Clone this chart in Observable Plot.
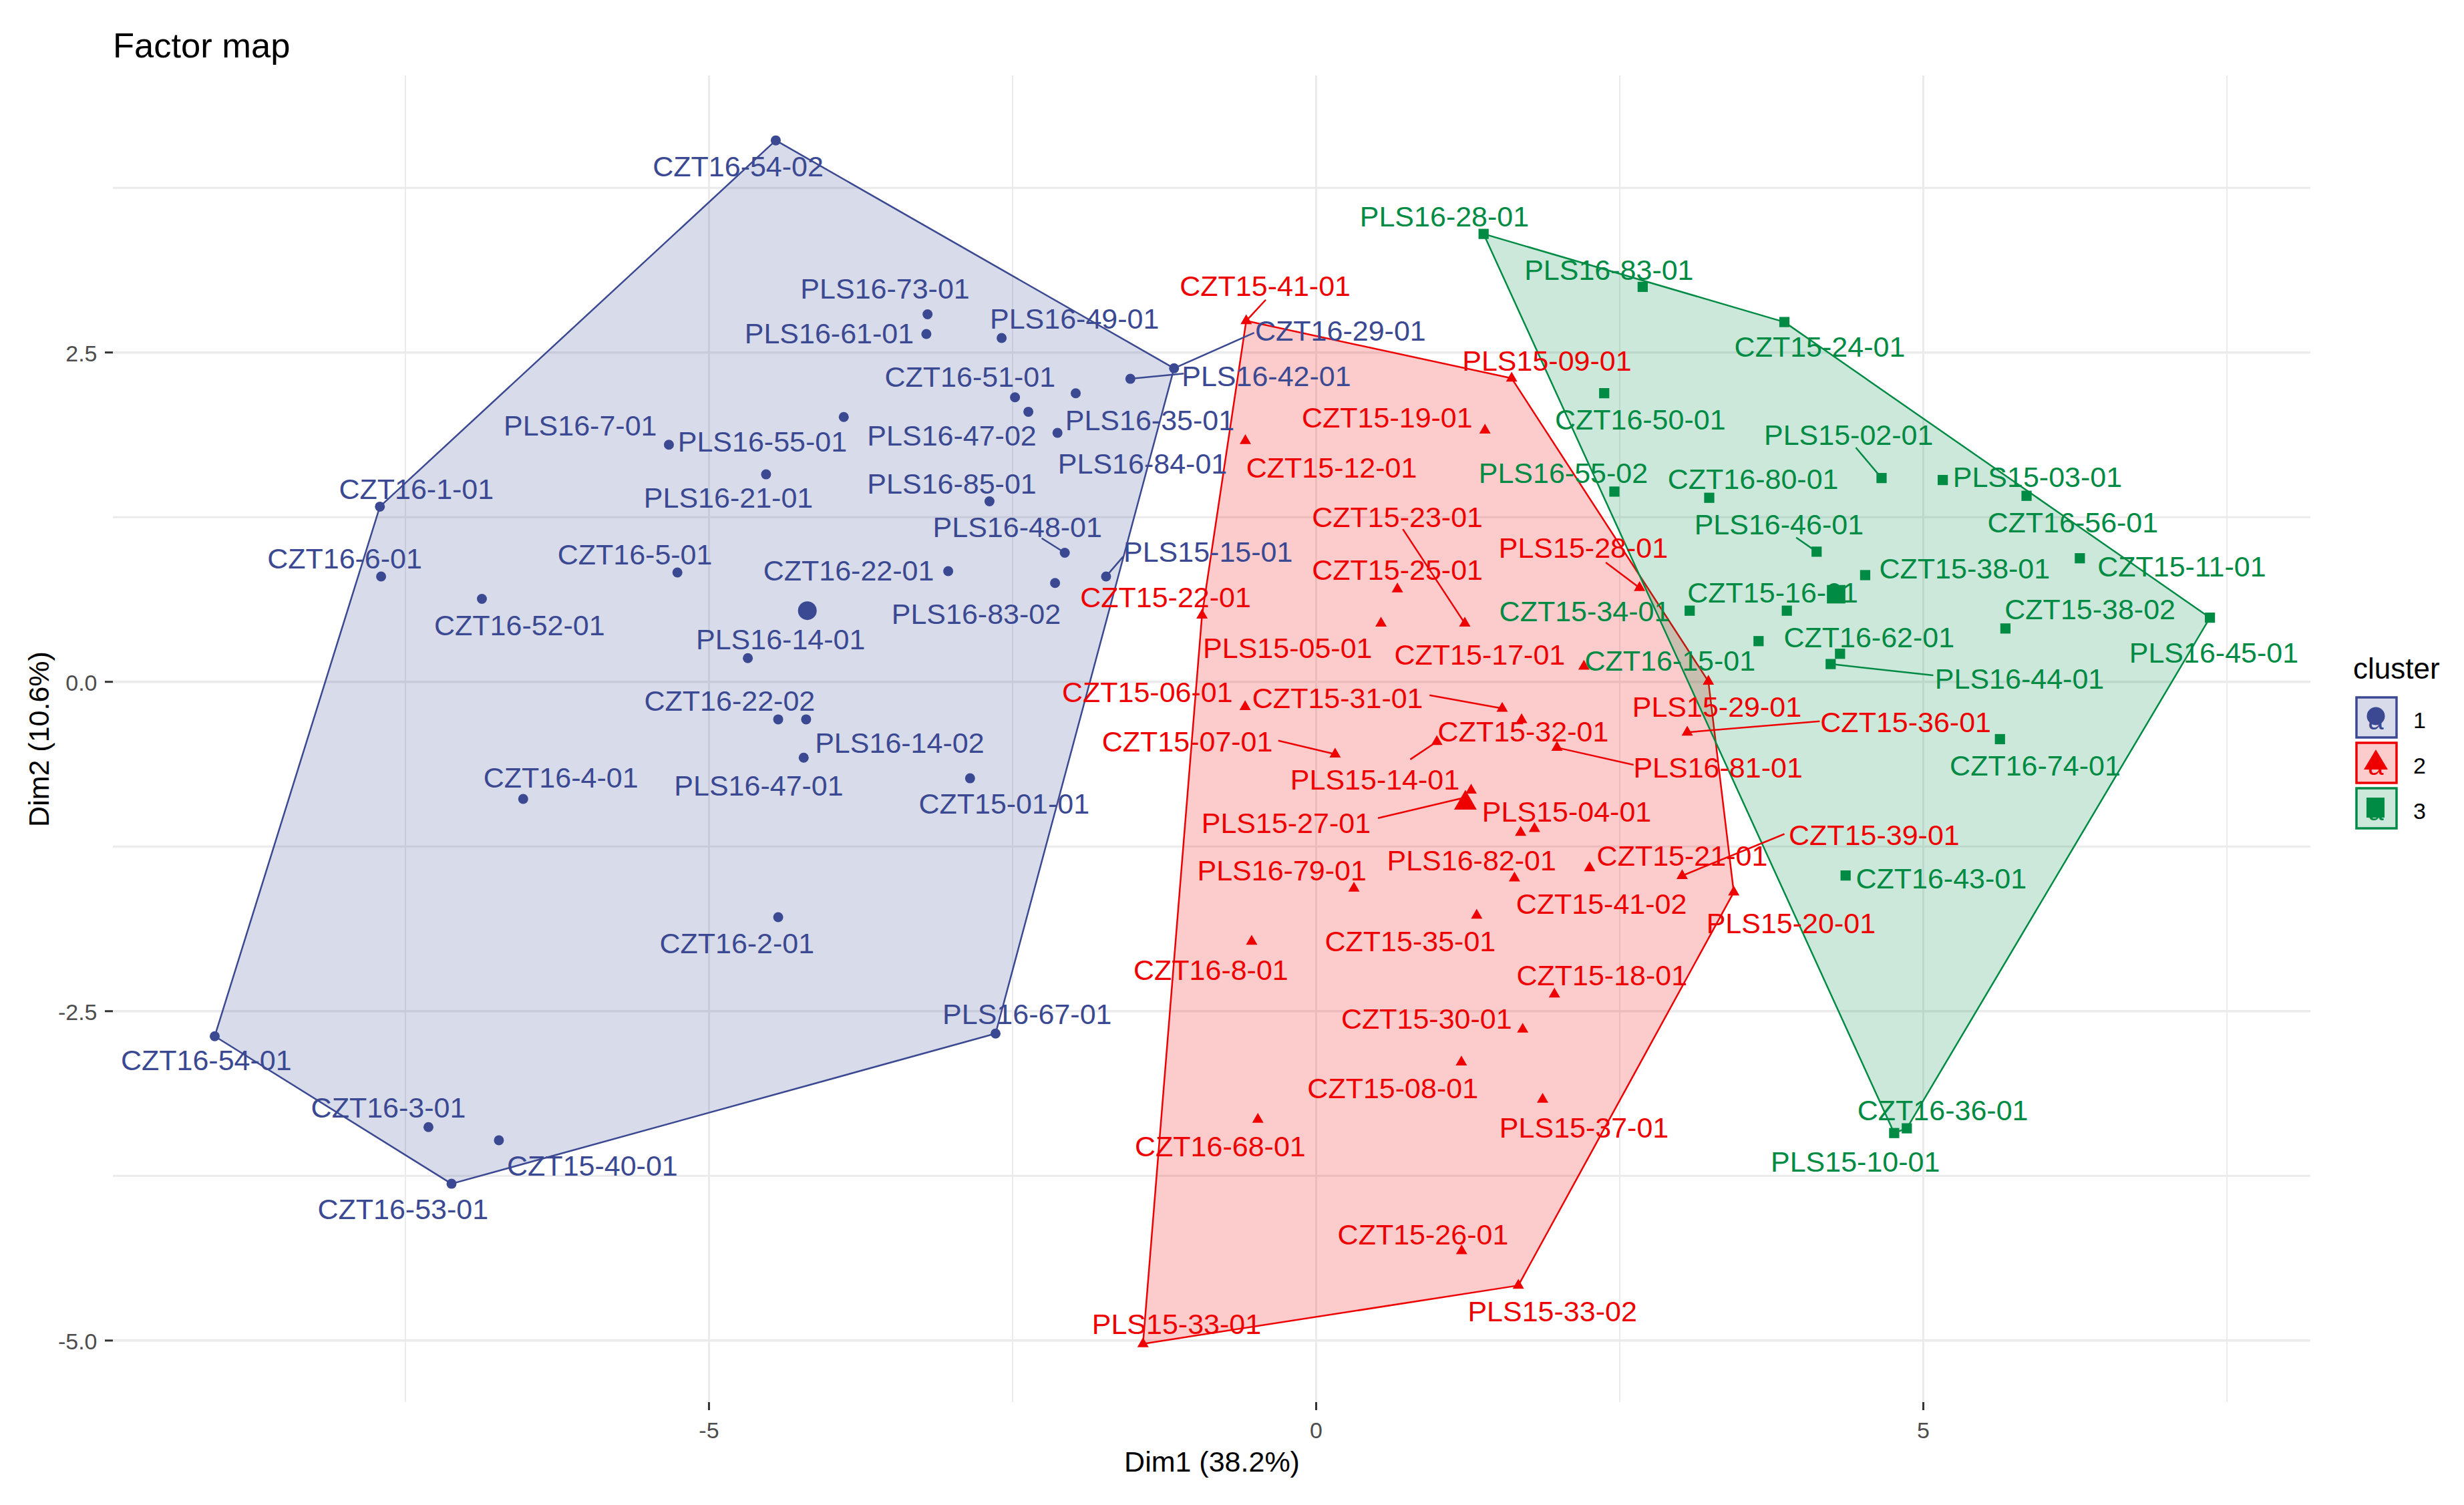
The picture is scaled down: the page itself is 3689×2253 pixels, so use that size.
<!DOCTYPE html>
<html>
<head>
<meta charset="utf-8">
<script src="https://cdn.jsdelivr.net/npm/d3@7"></script>
<script src="https://cdn.jsdelivr.net/npm/@observablehq/plot@0.6"></script>
<style>
html,body{margin:0;padding:0;background:#fff}
#wrap{position:relative;width:3689px;height:2253px;font-family:"Liberation Sans",Arial,sans-serif;overflow:hidden}
#title{position:absolute;left:169px;top:38px;font-size:52.5px;line-height:60px;color:#000}
#legend{position:absolute;left:3523px;top:976px;color:#000}
#legend .head{font-size:44px;line-height:50px;height:66px}
#legend .row{position:relative;height:68px}
#legend svg{position:absolute;left:3px;top:0}
#legend .lab{position:absolute;left:90px;top:18px;font-size:34px;line-height:36px}
</style>
</head>
<body>
<div id="wrap"><div id="title">Factor map</div><div id="legend"></div></div>
<script>
const clusterIds = ["1", "2", "3"];
const colors = ["#3B4992", "#EE0000", "#008B45"];
const xMajor = [-5, 0, 5];
const xMinor = [-7.5, -2.5, 2.5, 7.5];
const yMajor = [-5, -2.5, 0, 2.5];
const yMinor = [-3.75, -1.25, 1.25, 3.75];

const names1 = ["CZT16-54-02","PLS16-73-01","PLS16-61-01","PLS16-49-01","CZT16-51-01","PLS16-47-02","PLS16-35-01","PLS16-84-01","PLS16-42-01","CZT16-29-01","PLS16-55-01","PLS16-7-01","PLS16-21-01","PLS16-85-01","PLS16-48-01","PLS15-15-01","CZT16-22-01","PLS16-83-02","CZT16-5-01","CZT16-52-01","CZT16-1-01","CZT16-6-01","PLS16-14-01","CZT16-22-02","PLS16-14-02","PLS16-47-01","CZT16-4-01","CZT15-01-01","CZT16-2-01","PLS16-67-01","CZT16-54-01","CZT16-3-01","CZT15-40-01","CZT16-53-01"];
const x1 = [-4.45,-3.20,-3.21,-2.59,-2.48,-2.37,-1.98,-2.13,-1.53,-1.17,-3.89,-5.33,-4.53,-2.69,-2.07,-1.73,-3.03,-2.15,-5.26,-6.87,-7.71,-7.70,-4.68,-4.43,-4.20,-4.22,-6.53,-2.85,-4.43,-2.64,-9.07,-7.31,-6.73,-7.12];
const y1 = [4.11,2.79,2.64,2.61,2.16,2.05,2.19,1.89,2.30,2.38,2.01,1.80,1.575,1.37,0.98,0.80,0.84,0.75,0.83,0.63,1.33,0.80,0.18,-0.285,-0.285,-0.576,-0.889,-0.732,-1.786,-2.67,-2.69,-3.38,-3.48,-3.81];
const labelX1 = [-4.76,-3.55,-4.01,-1.99,-2.85,-3.0,-1.37,-1.43,-0.41,0.20,-4.56,-6.06,-4.84,-3.0,-2.46,-0.89,-3.85,-2.80,-5.61,-6.56,-7.41,-8.0,-4.41,-4.83,-3.43,-4.59,-6.22,-2.57,-4.77,-2.38,-9.14,-7.64,-5.96,-7.52];
const labelY1 = [3.915,2.99,2.65,2.76,2.32,1.875,1.99,1.66,2.327,2.67,1.83,1.95,1.40,1.51,1.18,0.99,0.85,0.52,0.97,0.435,1.47,0.94,0.325,-0.14,-0.457,-0.783,-0.725,-0.921,-1.98,-2.52,-2.87,-3.23,-3.67,-4.0];

const names2 = ["CZT15-41-01","PLS15-09-01","CZT15-19-01","CZT15-12-01","CZT15-23-01","CZT15-25-01","PLS15-28-01","PLS15-05-01","CZT15-17-01","PLS15-29-01","CZT15-22-01","CZT15-06-01","CZT15-31-01","CZT15-32-01","CZT15-07-01","PLS15-14-01","PLS16-81-01","CZT15-36-01","PLS15-04-01","PLS15-27-01","PLS16-79-01","PLS16-82-01","CZT15-21-01","CZT15-39-01","CZT15-41-02","CZT15-35-01","CZT16-8-01","CZT15-18-01","CZT15-30-01","CZT15-08-01","PLS15-37-01","CZT16-68-01","PLS15-20-01","CZT15-26-01","PLS15-33-02","PLS15-33-01"];
const x2 = [-0.576,1.61,1.39,-0.583,1.224,0.669,2.663,0.534,2.205,3.23,-0.94,-0.585,1.532,1.692,0.156,0.994,1.983,3.056,1.276,1.229,0.311,1.633,2.252,3.014,1.798,1.322,-0.531,1.962,1.701,1.196,1.865,-0.48,3.439,1.198,1.665,-1.426];
const y2 = [2.74,2.304,1.91,1.83,0.444,0.704,0.714,0.444,0.117,0.003,0.505,-0.189,-0.202,-0.288,-0.549,-0.454,-0.499,-0.383,-0.823,-0.877,-1.567,-1.49,-1.413,-1.472,-1.115,-1.773,-1.97,-2.371,-2.638,-2.887,-3.17,-3.322,-1.597,-4.32,-4.582,-5.025];
const labelX2 = [-0.42,1.90,0.585,0.127,0.669,0.669,2.20,-0.235,1.347,3.30,-1.24,-1.39,0.177,1.705,-1.061,0.484,3.309,4.855,2.063,-0.248,-0.282,1.28,3.014,4.595,2.349,0.775,-0.867,2.353,0.909,0.631,2.206,-0.79,3.91,0.88,1.945,-1.15];
const labelY2 = [3.007,2.443,2.01,1.63,1.255,0.853,1.02,0.263,0.209,-0.186,0.644,-0.075,-0.118,-0.374,-0.449,-0.737,-0.646,-0.303,-0.979,-1.065,-1.427,-1.352,-1.314,-1.158,-1.683,-1.966,-2.181,-2.224,-2.552,-3.08,-3.379,-3.52,-1.826,-4.189,-4.773,-4.869];
const extraX2 = [1.684];
const extraY2 = [-1.144];

const names3 = ["PLS16-28-01","PLS16-83-01","CZT15-24-01","CZT16-50-01","PLS15-02-01","PLS15-03-01","CZT16-56-01","CZT16-80-01","PLS16-55-02","PLS16-46-01","CZT15-38-01","CZT15-11-01","CZT15-16-01","CZT15-34-01","CZT15-38-02","PLS16-45-01","CZT16-15-01","CZT16-62-01","PLS16-44-01","CZT16-74-01","CZT16-43-01","CZT16-36-01","PLS15-10-01"];
const x3 = [1.379,2.689,3.856,2.372,4.656,5.16,5.85,3.237,2.456,4.121,4.521,6.289,3.876,3.076,5.676,7.36,3.643,4.314,4.237,5.631,4.36,4.864,4.76];
const y3 = [3.40,2.998,2.731,2.191,1.547,1.532,1.412,1.397,1.444,0.988,0.81,0.938,0.54,0.54,0.405,0.487,0.309,0.213,0.135,-0.435,-1.47,-3.389,-3.425];
const labelX3 = [1.056,2.411,4.147,2.669,4.385,5.94,6.231,3.598,2.035,3.811,5.34,7.128,3.76,2.211,6.373,7.392,2.914,4.553,5.792,5.921,5.147,5.16,4.44];
const labelY3 = [3.539,3.133,2.55,1.995,1.878,1.557,1.212,1.543,1.589,1.198,0.864,0.882,0.682,0.54,0.554,0.227,0.163,0.344,0.028,-0.63,-1.487,-3.246,-3.64];

const centroidX = [-4.19, 1.229, 4.282];
const centroidY = [0.54, -0.92, 0.665];

const linkNames = ["PLS16-42-01","CZT16-29-01","PLS16-48-01","PLS15-15-01","CZT15-41-01","CZT15-23-01","PLS15-28-01","CZT15-31-01","CZT15-07-01","PLS15-14-01","PLS16-81-01","CZT15-36-01","PLS15-27-01","CZT15-39-01","PLS15-02-01","PLS16-46-01","PLS16-44-01"];
const linkX = [-1.09,-0.51,-2.26,-1.59,-0.415,0.714,2.385,0.934,-0.312,0.775,2.614,4.147,0.509,3.856,4.444,3.953,5.082];
const linkY = [2.34,2.65,1.09,0.95,2.90,1.159,0.906,-0.102,-0.446,-0.589,-0.63,-0.299,-1.035,-1.155,1.778,1.095,0.049];

const labelFont = 43;
const groups = [
  {names:names1,x:x1,y:y1,lx:labelX1,ly:labelY1,color:colors[0],symbol:"circle",r:7.5,cr:14},
  {names:names2,x:x2.concat(extraX2),y:y2.concat(extraY2),lx:labelX2,ly:labelY2,color:colors[1],symbol:"triangle2",r:8.1,cr:16.2},
  {names:names3,x:x3,y:y3,lx:labelX3,ly:labelY3,color:colors[2],symbol:"square",r:8.6,cr:15.6}
];

const allNames = names1.concat(names2, names3);
const allX = x1.concat(x2, x3);
const allY = y1.concat(y2, y3);
const linkColor = n => names1.includes(n) ? colors[0] : names2.includes(n) ? colors[1] : colors[2];
const linkPt = n => allNames.indexOf(n);

const marks = [
  Plot.ruleX(xMinor,{stroke:"#EBEBEB",strokeWidth:2}),
  Plot.ruleX(xMajor,{stroke:"#EBEBEB",strokeWidth:3}),
  Plot.ruleY(yMinor,{stroke:"#EBEBEB",strokeWidth:3}),
  Plot.ruleY(yMajor,{stroke:"#EBEBEB",strokeWidth:3.5})
];
groups.forEach(g => {
  marks.push(Plot.hull(g.x,{x:g.x,y:g.y,fill:g.color,fillOpacity:0.2,stroke:g.color,strokeWidth:2.5}));
});
marks.push(Plot.link(linkNames,{
  x1:linkNames.map(n=>allX[linkPt(n)]), y1:linkNames.map(n=>allY[linkPt(n)]),
  x2:linkX, y2:linkY,
  stroke:linkNames.map(linkColor), strokeWidth:2.5
}));
groups.forEach((g,i) => {
  marks.push(Plot.dot(g.x,{x:g.x,y:g.y,symbol:()=>g.symbol,r:g.r,fill:g.color,stroke:"none"}));
  marks.push(Plot.dot([i],{x:[centroidX[i]],y:[centroidY[i]],symbol:()=>g.symbol,r:g.cr,fill:g.color,stroke:"none"}));
  marks.push(Plot.text(g.names,{x:g.lx,y:g.ly,text:g.names,fill:g.color,fontSize:labelFont,lineAnchor:"middle",textAnchor:"middle",dy:2}));
});
marks.push(
  Plot.axisX({ticks:xMajor,tickSize:12,tickPadding:17,tickFormat:d=>String(d),label:null,fontSize:34,fill:"#4D4D4D",stroke:"#333333",strokeWidth:3}),
  Plot.axisY({ticks:yMajor,tickSize:12,tickFormat:()=>"",label:null,stroke:"#333333",strokeWidth:3}),
  Plot.axisY({ticks:yMajor,tickSize:0,tickPadding:24,tickFormat:d=>d.toFixed(1),label:null,fontSize:34,fill:"#4D4D4D",dy:2}),
  Plot.text(["Dim1 (38.2%)"],{frameAnchor:"bottom",dy:103,fontSize:43,fill:"#000"}),
  Plot.text(["Dim2 (10.6%)"],{frameAnchor:"left",dx:-110,rotate:-90,textAnchor:"middle",fontSize:43,fill:"#000"})
);

const chart = Plot.plot({
  width:3689,height:2253,marginLeft:169,marginRight:230,marginTop:113,marginBottom:154,
  style:{fontFamily:'"Liberation Sans",Arial,sans-serif',background:"#fff",position:"absolute",left:"0",top:"0"},
  x:{domain:[-9.906,8.19],axis:null},
  y:{domain:[-5.47,4.6],axis:null},
  symbol:{type:"identity"},
  marks
});
const wrap = document.getElementById("wrap");
wrap.insertBefore(chart, wrap.firstChild);

const legend = document.getElementById("legend");
const glyphs = [
  c=>`<circle cx="31" cy="30" r="13.5" fill="${c}"/>`,
  c=>`<path d="M31 12 L49 42 L13 42 Z" fill="${c}"/>`,
  c=>`<rect x="17" y="16" width="27" height="30" fill="${c}"/>`
];
legend.innerHTML = `<div class="head">cluster</div>` + clusterIds.map((id,i)=>{
  const c = colors[i];
  const fill = d3.color(c).copy({opacity:0.2}).formatRgb();
  return `<div class="row"><svg width="64" height="64"><rect x="2" y="2" width="60" height="60" fill="${fill}" stroke="${c}" stroke-width="3.5"/><text x="31" y="50" text-anchor="middle" font-size="42" fill="${c}" font-family="Liberation Sans">a</text>${glyphs[i](c)}</svg><div class="lab">${id}</div></div>`;
}).join("");
</script>
</body>
</html>
